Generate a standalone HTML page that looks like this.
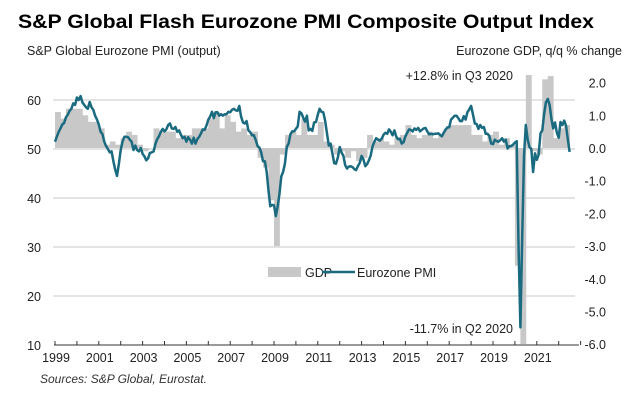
<!DOCTYPE html>
<html><head><meta charset="utf-8">
<style>
html,body{margin:0;padding:0;background:#fff;}
svg{display:block;font-family:"Liberation Sans",Arial,sans-serif;}
</style></head>
<body>
<svg id="chart" width="640" height="412" viewBox="0 0 640 412" xmlns="http://www.w3.org/2000/svg">
<text x="18" y="28" font-size="19" font-weight="bold" fill="#000" textLength="576" lengthAdjust="spacingAndGlyphs">S&amp;P Global Flash Eurozone PMI Composite Output Index</text>
<text x="27" y="55" font-size="12.5" fill="#222">S&amp;P Global  Eurozone PMI (output)</text>
<text x="622" y="55" font-size="12.5" fill="#222" text-anchor="end">Eurozone GDP, q/q % change</text>
<g id="grid"></g>
<g id="bars"></g>
<g id="line"></g>
<g id="axes"></g>
<text x="513" y="80" font-size="12.5" fill="#222" text-anchor="end">+12.8% in Q3 2020</text>
<text x="513" y="333" font-size="12.5" fill="#222" text-anchor="end">-11.7% in Q2 2020</text>
<g>
<rect x="268" y="267" width="33" height="10" fill="#c8c8c8"/>
<text x="305" y="277" font-size="12.5" fill="#222">GDP</text>
<line x1="322" y1="272" x2="355" y2="272" stroke="#1a6a80" stroke-width="2.5"/>
<text x="357" y="277" font-size="12.5" fill="#222">Eurozone PMI</text>
</g>
<text x="40" y="383" font-size="12" font-style="italic" fill="#333">Sources: S&amp;P Global, Eurostat.</text>
</svg>
<script>
const years = [1999,2001,2003,2005,2007,2009,2011,2013,2015,2017,2019,2021];
const leftTicks = [10,20,30,40,50,60];
const rightTicks = ["2.0","1.0","0.0","-1.0","-2.0","-3.0","-4.0","-5.0","-6.0"];
// quarterly GDP q/q % from 1999Q1
const gdp = [
1.1,0.9,1.2,1.2, 1.2,1.0,0.8,0.8, 0.6,0.1,0.2,0.1, 0.3,0.5,0.4,0.1,
-0.1,0.0,0.6,0.5, 0.5,0.5,0.3,0.4, 0.4,0.6,0.6,0.6, 0.9,1.1,0.6,1.0,
0.8,0.5,0.6,0.4, 0.5,-0.3,-0.6,-1.6, -3.0,-0.2,0.4,0.5, 0.4,0.9,0.4,0.4,
0.8,0.2,0.1,-0.2, -0.1,-0.3,-0.1,-0.4, -0.3,0.4,0.2,0.3, 0.2,0.1,0.3,0.4,
0.7,0.4,0.3,0.4, 0.5,0.3,0.4,0.6, 0.7,0.7,0.7,0.7, 0.4,0.4,0.2,0.4,
0.5,0.1,0.3,0.1, -3.6,-11.7,12.8,-0.1, -0.2,2.1,2.2,0.3, 0.6,0.7];
// monthly composite PMI from Jan 1999
const pmi = [
51.5,52.5,53.5,54.2,55.0,55.3,56.5,57.0,57.8,58.2,59.3,59.0,
60.5,60.0,60.8,59.5,59.0,58.5,58.2,59.6,58.5,58.0,56.8,56.0,
55.0,53.5,53.0,51.5,50.6,50.0,49.3,49.5,47.5,45.8,44.5,47.0,
49.8,51.5,52.5,52.5,52.4,51.9,51.5,49.8,50.7,49.8,49.5,50.2,
49.0,48.5,47.7,48.1,49.2,49.3,49.5,51.0,52.0,52.6,53.5,54.1,
53.6,54.0,54.9,55.2,54.2,54.1,54.5,53.5,53.8,52.9,52.2,52.5,
51.5,52.4,51.9,51.1,52.3,51.1,52.0,52.5,53.2,54.0,53.9,54.8,
56.0,56.6,57.6,56.3,57.5,57.5,56.8,57.1,56.8,57.1,57.1,57.6,
57.5,58.0,58.2,57.9,57.8,58.8,56.6,55.4,55.2,55.7,53.8,53.4,
52.8,52.8,51.8,50.6,50.3,49.3,47.5,47.5,45.3,41.5,38.3,38.6,
38.5,36.3,38.3,40.9,44.4,45.3,47.0,50.4,51.1,53.0,53.6,53.6,
54.1,54.6,57.6,57.3,56.4,55.6,56.8,53.8,54.1,53.7,55.4,55.5,
57.0,58.2,57.6,57.5,55.8,53.3,50.7,51.1,49.1,47.1,47.0,48.3,
50.4,49.3,48.6,46.7,46.0,46.4,46.5,46.3,45.9,45.7,46.5,47.2,
48.6,47.9,46.5,46.9,47.7,48.7,50.5,51.5,52.2,51.9,51.7,52.1,
52.9,53.3,53.1,54.0,53.5,52.8,53.8,52.5,52.0,52.1,51.1,51.4,
52.6,53.3,54.0,53.9,53.6,54.2,53.9,54.3,53.6,53.9,54.2,54.3,
53.6,53.0,53.1,53.0,53.1,53.1,53.2,52.9,52.6,53.3,53.9,54.4,
54.4,56.0,56.4,56.8,56.8,56.3,55.7,55.7,56.7,56.0,57.5,58.1,
58.8,57.1,55.2,55.1,54.1,54.9,54.3,54.5,53.1,53.1,52.7,51.1,
51.0,51.9,51.6,51.5,51.8,52.2,51.5,51.9,50.1,50.6,50.6,50.9,
51.3,51.6,29.7,13.6,31.9,48.5,54.9,51.9,50.4,50.0,45.3,49.1,
47.8,48.8,53.2,53.8,57.1,59.5,60.2,59.0,56.2,54.2,55.4,53.3,
52.3,55.5,54.9,55.8,54.8,52.0,49.4];

const NS="http://www.w3.org/2000/svg";
const X0=55, PX_YR=21.9, XR=575;
const xs = t => X0 + (t-1999)*PX_YR;
const yL = v => 149 - (v-50)*4.9;
const yR = v => 148 - v*32.7;
function mk(tag, attrs, parent){const e=document.createElementNS(NS,tag);for(const k in attrs)e.setAttribute(k,attrs[k]);parent.appendChild(e);return e;}
const grid=document.getElementById('grid'), bars=document.getElementById('bars'), lineG=document.getElementById('line'), axes=document.getElementById('axes');

leftTicks.forEach(v=>{
  if(v>10){const g=mk('line',{x1:X0-2,x2:XR,y1:yL(v),y2:yL(v),stroke:'#d4d4d4','stroke-width':1.3},grid);
  
  }
  const t=mk('text',{x:41,y:yL(v)+5,'font-size':12.5,fill:'#222','text-anchor':'end'},axes);
  t.textContent=v;
  
  
});
rightTicks.forEach(s=>{
  const v=parseFloat(s);
  const t=mk('text',{x:606,y:yR(v)+5,'font-size':12.5,fill:'#222','text-anchor':'end'},axes);
  t.textContent=s;
  
  
});

const TOP=75, BOT=344;
gdp.forEach((v,i)=>{
  const t=1999+i*0.25;
  let y1=Math.max(TOP,Math.min(BOT,yR(v))), y0=yR(0);
  const r=mk('rect',{x:xs(t),width:PX_YR/4+0.4,y:Math.min(y0,y1),height:Math.abs(y1-y0),fill:'#c8c8c8'},bars);
  
  
});

let d='';
pmi.forEach((v,i)=>{const t=1999+i/12;d+=(i?'L':'M')+xs(t).toFixed(1)+','+yL(v).toFixed(1);});
const p=mk('path',{d:d,fill:'none',stroke:'#1a6a80','stroke-width':2.5,'stroke-linejoin':'round'},lineG);



const ax=mk('line',{x1:X0-1,x2:XR+4,y1:345,y2:345,stroke:'#333','stroke-width':1},axes);


for(let y=1999;y<=2023;y++){
  const tk=mk('line',{x1:xs(y),x2:xs(y),y1:341,y2:345,stroke:'#333','stroke-width':1},axes);
  
  
}
years.forEach(y=>{
  const t=mk('text',{x:xs(y)+1,y:362,'font-size':12.5,fill:'#222','text-anchor':'middle'},axes);
  t.textContent=y;
  
  
});
</script>
</body></html>
